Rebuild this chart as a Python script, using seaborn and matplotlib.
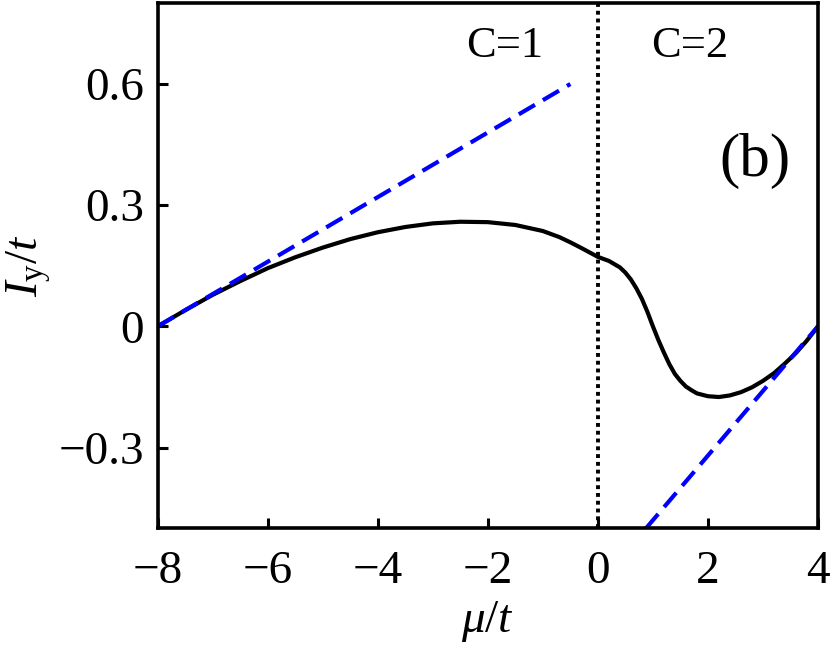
import numpy as np
import pandas as pd
import seaborn as sns
import matplotlib.pyplot as plt

# current I_y/t vs mu/t
mu = [-8.0, -7.5, -7.0, -6.5, -6.0, -5.5, -5.0, -4.5, -4.0, -3.5, -3.0, -2.5, -2.0,
      -1.5, -1.0, -0.7, -0.5, -0.3, 0.0, 0.2, 0.4, 0.5, 0.6, 0.7, 0.8, 0.9, 1.0,
      1.1, 1.2, 1.3, 1.4, 1.5, 1.6, 1.7, 1.8, 2.0, 2.2, 2.4, 2.6, 2.8, 3.0, 3.2,
      3.4, 3.6, 3.8, 4.0]
iy = [0.0, 0.040, 0.078, 0.112, 0.144, 0.171, 0.195, 0.216, 0.233, 0.246, 0.255,
      0.259, 0.258, 0.251, 0.236, 0.221, 0.208, 0.194, 0.172, 0.162, 0.146, 0.133,
      0.116, 0.094, 0.068, 0.036, 0.000, -0.034, -0.065, -0.094, -0.118, -0.135,
      -0.149, -0.158, -0.166, -0.173, -0.175, -0.171, -0.163, -0.151, -0.135,
      -0.116, -0.092, -0.066, -0.035, 0.0]

# asymptotic lines (C=1 slope, C=2 slope)
lin1_x = [-8.0, -0.5]
lin1_y = [0.0, 0.6]
lin2_x = [0.875, 4.0]
lin2_y = [-0.5, 0.0]

xticks = [-8, -6, -4, -2, 0, 2, 4]
xtick_labels = ['\u22128', '\u22126', '\u22124', '\u22122', '0', '2', '4']
yticks = [0.6, 0.3, 0.0, -0.3]
ytick_labels = ['0.6', '0.3', '0', '\u22120.3']

sns.set_style('ticks', {'text.color': 'black', 'axes.labelcolor': 'black',
                        'xtick.color': 'black', 'ytick.color': 'black',
                        'axes.edgecolor': 'black'})
plt.rcParams['font.family'] = ['Liberation Serif', 'DejaVu Serif']
plt.rcParams['mathtext.fontset'] = 'custom'
plt.rcParams['mathtext.rm'] = 'Liberation Serif'
plt.rcParams['mathtext.it'] = 'Liberation Serif:italic'

fig = plt.figure(figsize=(8.3, 6.49), dpi=100)
ax = fig.add_axes([0.19, 0.186, 0.7955, 0.809])

curve = pd.DataFrame({'mu': mu, 'iy': iy})
sns.lineplot(data=curve, x='mu', y='iy', color='black', linewidth=3.0, ax=ax)
sns.lineplot(x=lin1_x, y=lin1_y, color='#0000ff', linewidth=3.0, ax=ax,
             linestyle=(0, (4.5, 2.2)))
sns.lineplot(x=lin2_x, y=lin2_y, color='#0000ff', linewidth=3.0, ax=ax,
             linestyle=(0, (4.5, 2.2)))
ax.axvline(0, color='black', linewidth=2.8, linestyle=(0, (1.0, 1.0)))

ax.set_xlim(-8, 4)
ax.set_ylim(-0.5, 0.8)
ax.set_xticks(xticks)
ax.set_xticklabels(xtick_labels)
ax.set_yticks(yticks)
ax.set_yticklabels(ytick_labels)
ax.tick_params(direction='in', length=7, width=2.2, labelsize=34, colors='black',
               bottom=True, left=True, top=False, right=False)
ax.tick_params(axis='x', pad=16)
ax.tick_params(axis='y', pad=10)
for s in ax.spines.values():
    s.set_visible(True)
    s.set_linewidth(2.6)
    s.set_color('black')

ax.set_xlabel(r'$\mu/t$', fontsize=34, labelpad=4, color='black')
ax.set_ylabel(r'$I_{\mathrm{y}}/t$', fontsize=34, labelpad=4, color='black')

ax.text(-1.7, 0.695, 'C=1', fontsize=32, ha='center', va='center', color='black')
ax.text(1.67, 0.695, 'C=2', fontsize=32, ha='center', va='center', color='black')
ax.text(2.85, 0.41, '(b)', fontsize=44, ha='center', va='center', color='black')

fig.savefig('out.png', dpi=100)
